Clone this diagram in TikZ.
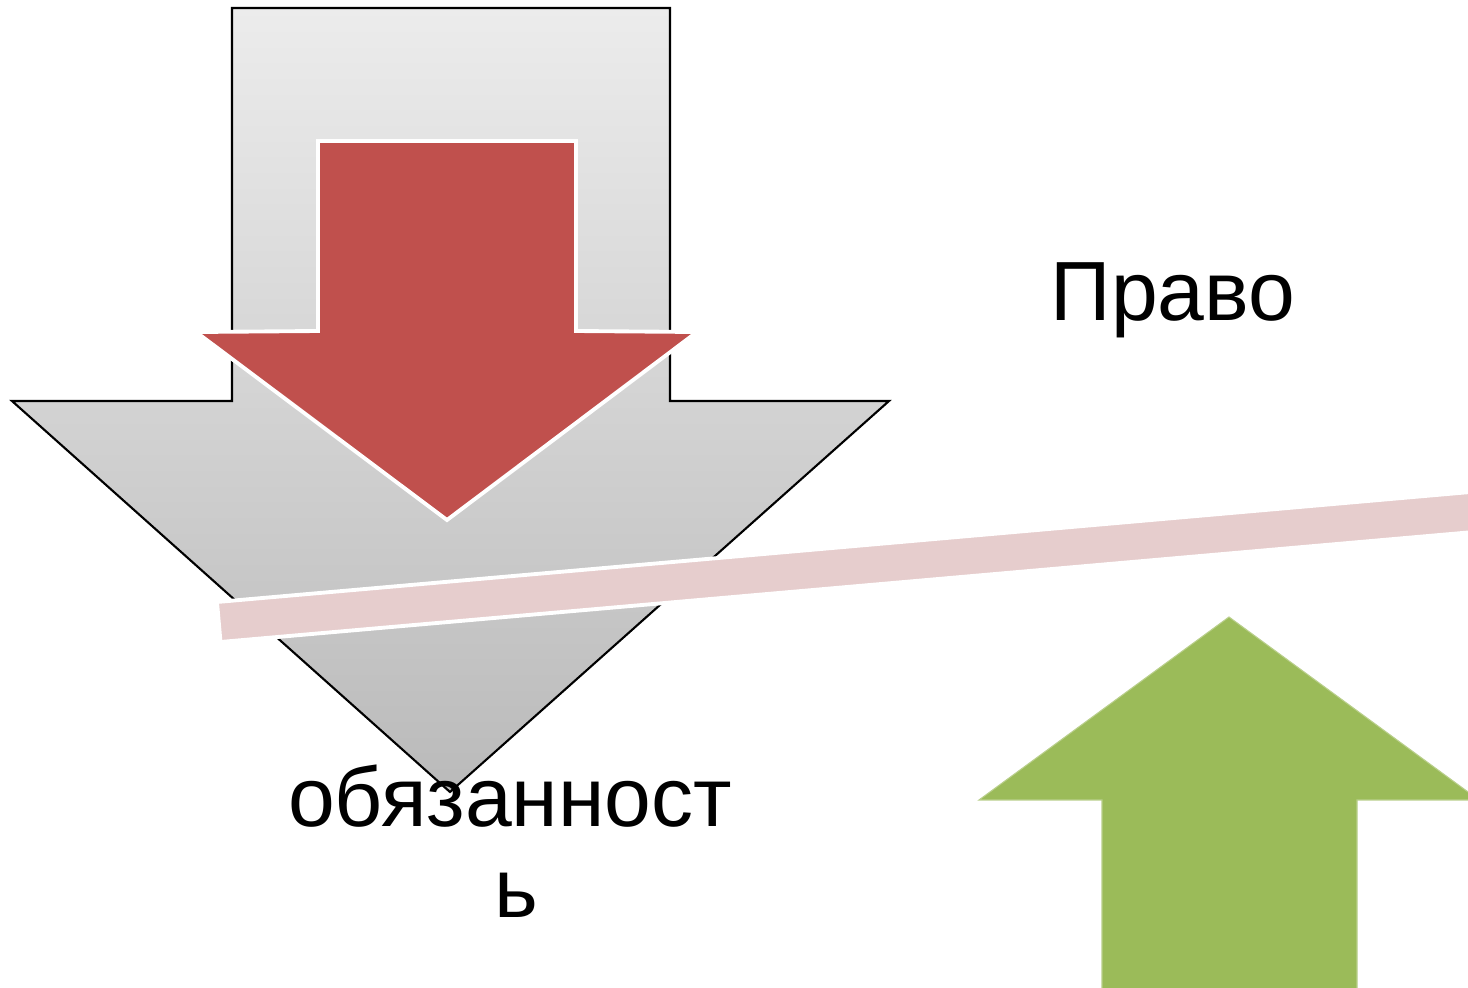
\documentclass[tikz,border=0pt]{standalone}
\usepackage{fontspec}
\setmainfont{Liberation Sans}
\definecolor{grayTop}{RGB}{236,236,236}
\definecolor{grayBot}{RGB}{186,186,186}
\definecolor{redFill}{RGB}{192,80,77}
\definecolor{pinkFill}{RGB}{230,205,205}
\definecolor{greenFill}{RGB}{155,187,89}
\tikzset{
  grayarrow/.style={top color=grayTop, bottom color=grayBot, draw=black, line width=0.6pt, line join=miter},
  redarrow/.style={fill=redFill, draw=white, line width=1.1pt, line join=miter},
  pinkbar/.style={fill=pinkFill, draw=white, line width=1.1pt},
  greenarrow/.style={fill=greenFill, draw=greenFill!70!white, line width=0.3pt},
  bigtext/.style={font=\fontsize{23.9pt}{25.9pt}\selectfont, inner sep=0pt, anchor=base}
}
\begin{document}
\begin{tikzpicture}[x=0.01cm, y=-0.01cm]
\useasboundingbox (0,0) rectangle (1468,988);
\clip (0,0) rectangle (1468,988);
\fill[white] (0,0) rectangle (1468,988);
% gray down arrow
\path[grayarrow] (232,8) -- (670,8) -- (670,401) -- (889,401) -- (450,792)
  -- (12,401) -- (232,401) -- cycle;
% red down arrow
\path[redarrow] (318,141) -- (576,141) -- (576,331) -- (697,332) -- (447,520)
  -- (196,332) -- (318,331) -- cycle;
% pink bar
\path[pinkbar] (217,602) -- (1611.6,479.6) -- (1615.1,519.6) -- (220.5,642) -- cycle;
% green up arrow
\path[greenarrow] (1229,617) -- (1479,800) -- (1357,800) -- (1357,1000)
  -- (1102,1000) -- (1102,800) -- (979,800) -- cycle;
% texts
\node[bigtext] (pravo) at (1173,321) {Право};
\node[bigtext] (obl1) at (510,827) {обязанност};
\node[bigtext] (obl2) at (516,918) {ь};
\end{tikzpicture}
\end{document}
